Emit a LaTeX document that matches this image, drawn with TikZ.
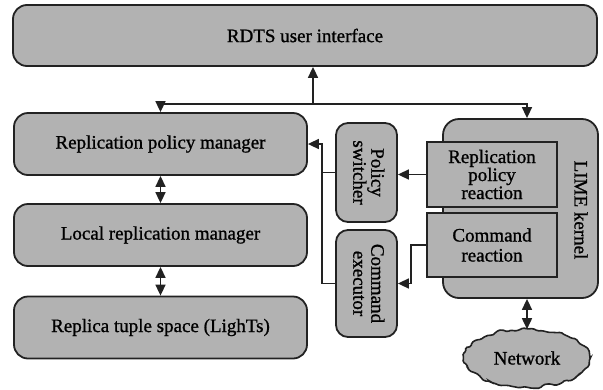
\documentclass[tikz,border=0pt]{standalone}
\usepackage{fontspec}
\usepackage{graphicx}
\setmainfont{Liberation Serif}
\newfontfamily\heavy{Liberation Serif}[FakeBold=1]
\usetikzlibrary{shapes.geometric,arrows.meta,decorations.pathmorphing}
\definecolor{boxgray}{RGB}{178,178,178}
\definecolor{edge}{RGB}{34,34,34}
\begin{document}
\begin{tikzpicture}[x=1pt,y=-1pt,
  every node/.style={font=\heavy\fontsize{19}{21}\selectfont, text=black},
  rbox/.style={draw=edge, line width=1.8pt, fill=boxgray, rounded corners=14pt, inner sep=0pt, align=center},
  sbox/.style={draw=edge, line width=1.8pt, fill=boxgray, inner sep=0pt, align=center},
  conn/.style={draw=edge, line width=1.6pt},
  arr/.style={conn, -{Triangle[length=11pt,width=10pt]}},
  darr/.style={conn, {Triangle[length=11pt,width=10pt]}-{Triangle[length=11pt,width=10pt]}}]
\useasboundingbox (0,0) rectangle (603,389);
\node[rbox, minimum width=584pt, minimum height=61pt] (top) at (305,35.5) {RDTS user interface};
\node[rbox, minimum width=293pt, minimum height=62pt] (rpm) at (160.5,144) {Replication policy manager};
\node[rbox, minimum width=293pt, minimum height=62pt] (lrm) at (160.5,235) {Local replication manager};
\node[rbox, minimum width=293pt, minimum height=62pt] (rts) at (160.5,327.5) {Replica tuple space (LighTs)};
\node[rbox, minimum width=61pt, minimum height=99pt, rounded corners=12pt] (ps) at (366.5,172.5) {\rotatebox[origin=c]{-90}{\begin{tabular}{@{}c@{}}Policy\\[-3pt]switcher\end{tabular}}};
\node[rbox, minimum width=61pt, minimum height=107pt, rounded corners=12pt] (ce) at (366.5,283.5) {\rotatebox[origin=c]{-90}{\begin{tabular}{@{}c@{}}Command\\[-3pt]executor\end{tabular}}};
\node[rbox, minimum width=155pt, minimum height=179pt, rounded corners=16pt] (lime) at (520.5,208.5) {};
\node[rotate=-90] (limet) at (581,210) {LIME kernel};
\node[sbox, minimum width=130pt, minimum height=65pt] (rpr) at (492,174.5) {Replication\\[-3pt]policy\\[-3pt]reaction};
\node[sbox, minimum width=130pt, minimum height=64pt] (cr) at (492,245) {Command\\[-1pt]reaction};
\pgfmathsetseed{7}
\node[ellipse, draw=edge, line width=1.6pt, fill=boxgray, minimum width=126pt, minimum height=58pt, inner sep=0pt,
  decorate, decoration={random steps, segment length=4pt, amplitude=1.8pt}, rounded corners=1.5pt] (net) at (527,358) {Network};
\coordinate (j) at (313,104);
\draw[arr] (j) -- (top.south -| j);
\draw[arr] (j) -| (rpm.north);
\draw[arr] (j) -| (lime.north -| net.north);
\draw[darr] (rpm.south) -- (lrm.north);
\draw[darr] (lrm.south) -- (rts.north);
\draw[arr] (rpr.west) -- (rpr.west -| ps.east);
\draw[arr] (cr.west) -- ++(-15,0) |- (ce.east);
\draw[conn] (ps.west) -- ++(-13,0);
\draw[arr] (ce.west) -- ++(-13,0) |- (rpm.east);
\draw[darr] (lime.south -| net.north) -- ([yshift=-1pt]net.north);
\end{tikzpicture}
\end{document}
